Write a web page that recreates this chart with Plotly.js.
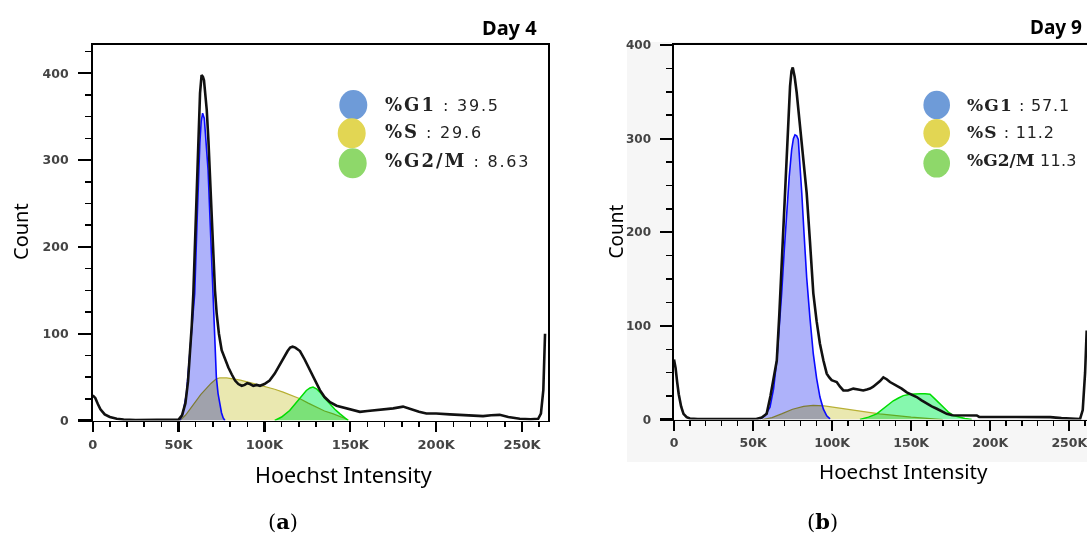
<!DOCTYPE html>
<html>
<head>
<meta charset="utf-8">
<script src="https://cdn.plot.ly/plotly-3.0.1.min.js"></script>
<style>
html,body{margin:0;padding:0;background:#ffffff;}
#chart{width:1087px;height:536px;}
.js-fill,.js-tonext{mix-blend-mode:multiply;}
</style>
</head>
<body>
<div id="chart"></div>
<script>
// ---------------- DATA (x in thousands of Hoechst intensity units, y = count) ----------------
// Day 4 (panel a)
const day4TotalX = [0,1.5,3,4.5,7,10,14,18,25,35,45,50,52,54,55.5,56.7,57.7,58.6,59.4,60,60.8,61.5,62,62.5,63.4,64.2,64.8,65.6,66.4,67.4,68.3,69.3,70.3,71.2,72.2,73.5,75.1,77,79,81,82.9,84.8,86.8,88.5,90,91.6,93.5,95.5,97.4,100,103,106,109,111.5,113.5,115,116.4,118,120.7,123.5,126.5,129.5,132.3,135,138.2,142,145.9,150,155.6,160,165.3,170,175,180.7,185,190,194.3,200,207.9,215,222,227.3,232,237,242,248.7,255,259.4,261,262.4,263.4];
const day4TotalY = [29,26,19,13,7,4,2,1,0.5,0.5,0.5,1,6,20,45,77,110,146,190,231,275,319,350,377,398,396,392,378,358,322,281,232,185,150,123,100,81,70,61,53,46,42,40,41,43,42,40,41,40,42,46,54,65,74,80,84,85,84,80,70,58,45,35,27,21,17,15,12,10,11,12,13,14,16,13,10,8,8,7,6,5.5,5,6,6.5,4,2,1.5,2,8,35,100];
const day4G1X = [50.7,52.5,54.6,56.5,58,59.4,60.8,61.6,62.4,63.2,64,65,66,67.2,68.2,69.2,70.2,71.1,72,73,74,75,76,77];
const day4G1Y = [0,8,31,81,115,146,231,280,320,345,354,348,325,288,238,185,130,77,50,31,18,9,3,0];
const day4SX = [50.7,54,57,60.4,63,66.2,69,72,74,78,81.8,86,91,96,101.2,106,110.9,115.5,120.7,125.5,130.4,135,140.1,144.5,148.8];
const day4SY = [0,6,14,23,30,37,43,48,49,49,48,46.5,44,41.5,38.5,36,32.7,29,25,20,15.4,11,7.7,4,0.8];
const day4G2X = [106,110,114.7,118,120.5,122.5,124.4,126.5,128.3,130.3,132.3,135,138.2,141,144,146.5,148.8];
const day4G2Y = [0,4,11.5,19,25,30,34.6,37.5,38.5,36.5,32.7,26,19,13,7.7,3.5,0];

// Day 9 (panel b)
const day9TotalX = [0,1,2,3,4.5,6,8,10,15,25,40,52,55.5,58.6,61,63,65,66.6,68.1,69.7,71.3,72.4,73.4,74.3,75.1,76.3,77.6,79.2,80.8,82.3,83.9,86,88.1,90.2,92.3,94.5,96.6,98.2,99.7,101.3,102.9,105,107.1,110,113.4,116.5,119.7,122,124,126,128.2,130.3,132.4,134.5,136.6,140.9,144,147.2,150.4,153.5,156.6,159.8,163,166.2,169.3,172.5,176,180,191.5,193,210,238,245,252,256.8,258.5,260,261];
const day9TotalY = [64,55,40,27,14,6,2.5,1,0.5,0.5,0.5,0.5,2,6,25,45,63,112,170,225,277,320,356,372,376,366,349,323,295,270,242,190,135,105,81,63,49,45,42,41,40,35,31,31,33,32,31,32,33,35,38,41,45,43,40,36,33,29,26.5,24,20.5,17,14,11.5,8.5,6,4.5,4.3,4.3,2.7,2.5,2.5,1.5,0.8,0.5,10,50,95];
const day9G1X = [54.4,57.5,60.7,63,65,66.6,68.1,69.7,71.3,72.9,74.4,75.5,76.5,77.6,78.6,79.7,80.8,82.3,83.9,86,88.1,90.2,92.3,94.5,96.6,98.7];
const day9G1Y = [0.7,4,13,33,63,98,135,180,224,260,288,300,304,303,299,275,242,197,152,108,70,44,24,11,4,0.7];
const day9SX = [56,62,68,75,82,88,95,102,110,120,130,140,150,160,170];
const day9SY = [0,2,6,11,14,15,14.5,13,11,8.5,6,4,2.5,1.2,0];
const day9G2X = [117.6,123,128.2,130.5,133,135.5,138.7,142,145,149.3,152.5,155.6,158.8,161.9,165,168,170.3,173.5,176.7,180,184,188.3];
const day9G2Y = [0,2.5,6,9,12,15,20,23,25.5,27,27.5,27.5,27.5,27,22,17,13,8,4.3,2.5,1,0];

// Legend / labels
const phaseNames = ['%G1','%S','%G2/M'];
const day4Pct = ['39.5','29.6','8.63'];
const day9Pct = ['57.1','11.2','11.3'];
const day9Sep = [' : ',' : ',' '];
const panelTitles = ['Day 4','Day 9'];
const panelCaps = ['a','b'];
const xTickVals = [0,50,100,150,200,250];
const xTickText = ['0','50K','100K','150K','200K','250K'];
const yTickVals = [0,100,200,300,400];
const yTickText = ['0','100','200','300','400'];

// ---------------- LAYOUT HELPERS ----------------
const W = 1087, H = 536;
const fx = p => p / W;
const fy = p => 1 - p / H;

const C = {
  g1Fill:'rgb(174,178,250)', g1Line:'#0a0aff',
  sFill:'rgb(234,232,176)', sLine:'#b8b034',
  g2Fill:'rgb(134,248,174)', g2Line:'#00dd00',
  total:'#111111',
  dotG1:'#6e9bd8', dotS:'#e2d653', dotG2:'#8ed86a'
};

function comp(x, y, fill, line, lw, xa, ya) {
  return {x:x, y:y, type:'scatter', mode:'lines', fill:'tozeroy', fillcolor:fill,
    line:{color:line, width:lw}, xaxis:xa, yaxis:ya, hoverinfo:'skip', showlegend:false};
}
function total(x, y, xa, ya) {
  return {x:x, y:y, type:'scatter', mode:'lines', line:{color:C.total, width:2.6},
    xaxis:xa, yaxis:ya, hoverinfo:'skip', showlegend:false};
}

const traces = [
  comp(day4SX, day4SY, C.sFill, C.sLine, 1.2, 'x', 'y'),
  comp(day4G2X, day4G2Y, C.g2Fill, C.g2Line, 1.5, 'x', 'y'),
  comp(day4G1X, day4G1Y, C.g1Fill, C.g1Line, 1.6, 'x', 'y'),
  total(day4TotalX, day4TotalY, 'x', 'y'),
  comp(day9SX, day9SY, C.sFill, C.sLine, 1.2, 'x2', 'y2'),
  comp(day9G2X, day9G2Y, C.g2Fill, C.g2Line, 1.5, 'x2', 'y2'),
  comp(day9G1X, day9G1Y, C.g1Fill, C.g1Line, 1.6, 'x2', 'y2'),
  total(day9TotalX, day9TotalY, 'x2', 'y2')
];

function xAx(domain, range, anchor, fs) {
  return {domain:domain, range:range, anchor:anchor, showline:true, linecolor:'#000', linewidth:1.6,
    mirror:true, showgrid:false, zeroline:false, ticks:'outside', ticklen:10, tickwidth:2.2, tickcolor:'#000',
    tickmode:'array', tickvals:xTickVals, ticktext:xTickText, ticklabelstandoff:1, ticklabeloverflow:'allow',
    tickfont:{family:'DejaVu Sans', size:fs, color:'#444', weight:'bold'},
    minor:{tickmode:'linear', tick0:0, dtick:10, ticks:'outside', ticklen:5, tickwidth:1.5, tickcolor:'#000', showgrid:false},
    fixedrange:true};
}
function yAx(domain, range, anchor, fs, tl, mirror) {
  return {domain:domain, range:range, anchor:anchor, showline:true, linecolor:'#000', linewidth:1.6,
    mirror:mirror, showgrid:false, zeroline:false, ticks:'outside', ticklen:tl, tickwidth:2.2, tickcolor:'#000',
    tickmode:'array', tickvals:yTickVals, ticktext:yTickText, ticklabelstandoff:7, ticklabeloverflow:'allow',
    tickfont:{family:'DejaVu Sans', size:fs, color:'#444', weight:'bold'},
    minor:{tickmode:'linear', tick0:0, dtick:25, ticks:'outside', ticklen:6.5, tickwidth:1.5, tickcolor:'#000', showgrid:false},
    fixedrange:true};
}

const shapes = [
  {type:'rect', xref:'paper', yref:'paper', x0:fx(627), x1:1, y0:fy(462), y1:fy(42), fillcolor:'#f6f6f6', line:{width:0}, layer:'below'},
  {type:'rect', xref:'paper', yref:'paper', x0:fx(674), x1:1, y0:fy(419), y1:fy(45), fillcolor:'#ffffff', line:{width:0}, layer:'below'}
];
const dotColors = [C.dotG1, C.dotS, C.dotG2];
const leftDots = [[353.3,105],[351.7,133.3],[352.7,163.3]];
const rightDots = [[936.7,105],[936.7,133.3],[936.7,163.3]];
function dot(c, rx, ry, col) {
  return {type:'circle', xref:'paper', yref:'paper', x0:fx(c[0]-rx), x1:fx(c[0]+rx), y0:fy(c[1]+ry), y1:fy(c[1]-ry),
    fillcolor:col, line:{width:0}, layer:'above'};
}
leftDots.forEach((c,i) => shapes.push(dot(c, 14, 15, dotColors[i])));
rightDots.forEach((c,i) => shapes.push(dot(c, 13.3, 14.3, dotColors[i])));

const annotations = [];
function txt(x, y, text, font, opts) {
  annotations.push(Object.assign({xref:'paper', yref:'paper', x:fx(x), y:fy(y), text:text, showarrow:false,
    font:font, xanchor:'center', yanchor:'middle'}, opts || {}));
}
// panel titles
txt(509.5, 27, '<b>' + panelTitles[0] + '</b>', {family:'Noto Sans', size:20, color:'#000'});
txt(1055.5, 27, '<b>' + panelTitles[1] + '</b>', {family:'Noto Sans', size:19, color:'#000'});
// axis titles
txt(21, 232, 'Count', {family:'Noto Sans', size:20, color:'#000'}, {textangle:-90});
txt(615.5, 232, 'Count', {family:'Noto Sans', size:19, color:'#000'}, {textangle:-90});
txt(343, 474, 'Hoechst Intensity', {family:'Noto Sans', size:21.5, color:'#000'});
txt(903.5, 471, 'Hoechst Intensity', {family:'Noto Sans', size:20.5, color:'#000'});
// captions
txt(283, 521, '(<b>' + panelCaps[0] + '</b>)', {family:'DejaVu Serif', size:21, color:'#000'});
txt(822, 521, '(<b>' + panelCaps[1] + '</b>)', {family:'DejaVu Serif', size:21, color:'#000'});
// legends
const leftRowY = [104.5, 132, 160];
const rightRowY = [104.5, 132, 160];
const rightLabelSpacing = [1.2, 1.2, 0];
const rightValueSpacing = [0.8, 0.8, 0.3];
phaseNames.forEach((p, i) => {
  txt(383.3, leftRowY[i],
    '<span style="font-family:\'DejaVu Serif\';font-weight:bold;font-size:18px;letter-spacing:2px">' + p + '</span>' +
    '<span style="letter-spacing:1.8px"> : ' + day4Pct[i] + '</span>',
    {family:'DejaVu Sans', size:16, color:'#222'}, {xanchor:'left'});
  txt(965, rightRowY[i],
    '<span style="font-family:\'DejaVu Serif\';font-weight:bold;font-size:17px;letter-spacing:' + rightLabelSpacing[i] + 'px">' + p + '</span>' +
    '<span style="letter-spacing:' + rightValueSpacing[i] + 'px">' + day9Sep[i] + day9Pct[i] + '</span>',
    {family:'DejaVu Sans', size:16, color:'#222'}, {xanchor:'left'});
});

const layout = {
  width:W, height:H, margin:{l:0, r:0, t:0, b:0},
  paper_bgcolor:'#ffffff', plot_bgcolor:'rgba(0,0,0,0)', showlegend:false,
  xaxis: xAx([fx(92.7), fx(548.3)], [0, 265.3], 'y', 13),
  yaxis: yAx([fy(420.5), fy(45)], [0, 432.6], 'x', 12.5, 13, true),
  xaxis2: xAx([fx(674), 1], [0, 261.2], 'y2', 12.5),
  yaxis2: yAx([fy(419.5), fy(45)], [0, 400], 'x2', 12, 12, false),
  shapes:shapes, annotations:annotations
};

Plotly.newPlot('chart', traces, layout, {staticPlot:true, displayModeBar:false});
</script>
</body>
</html>
